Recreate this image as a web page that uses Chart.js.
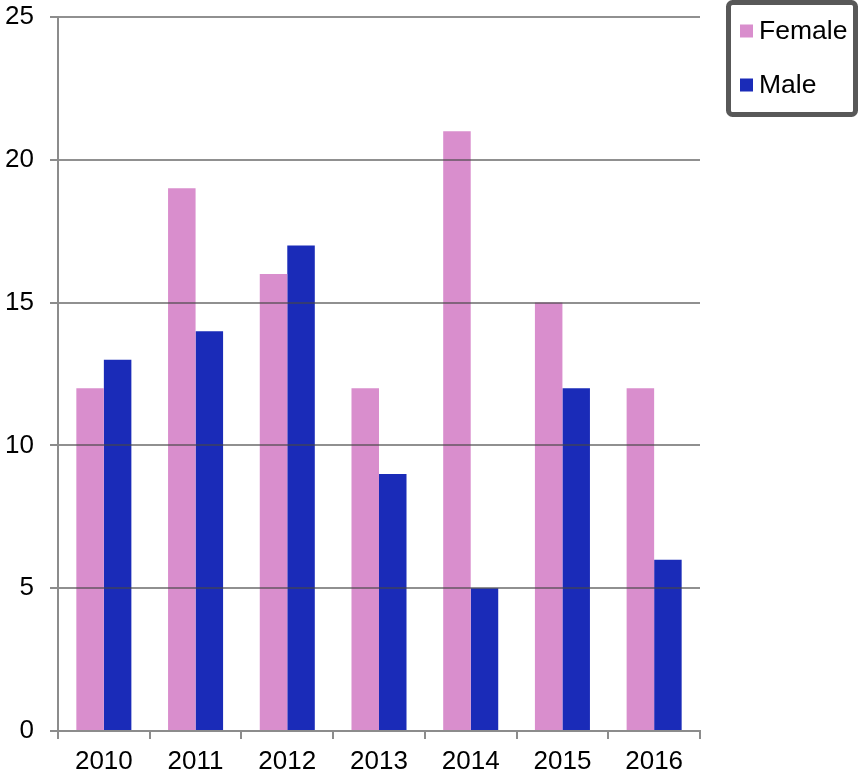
<!DOCTYPE html>
<html>
<head>
<meta charset="utf-8">
<script src="https://cdn.jsdelivr.net/npm/chart.js@4/dist/chart.umd.min.js"></script>
<style>
  html, body { margin: 0; padding: 0; background: #ffffff; }
  #wrap { width: 859px; height: 774px; position: relative; }
</style>
</head>
<body>
<div id="wrap"><canvas id="c" width="859" height="774"></canvas></div>
<script>
const years = ['2010', '2011', '2012', '2013', '2014', '2015', '2016'];
const female = [12, 19, 16, 12, 21, 15, 12];
const male = [13, 14, 17, 9, 5, 12, 6];
const seriesNames = ['Female', 'Male'];
const seriesColors = ['#d98ecd', '#1a2bb8'];

const FONT = "'Liberation Sans', Arial, sans-serif";
const AXIS_GREY = '#8c8c8c';
// translucent so the lines stay visible across the bars
const GRID_GREY = 'rgba(70, 70, 70, 0.6)';

// Horizontal value lines laid over the bars
const overGrid = {
  id: 'overGrid',
  afterDatasetsDraw(chart) {
    const ctx = chart.ctx;
    const y = chart.scales.y;
    const area = chart.chartArea;
    ctx.save();
    ctx.strokeStyle = GRID_GREY;
    ctx.lineWidth = 2;
    y.ticks.forEach(t => {
      if (t.value === 0) return;
      const py = Math.round(y.getPixelForValue(t.value));
      ctx.beginPath();
      ctx.moveTo(area.left + 1, py);
      ctx.lineTo(area.right, py);
      ctx.stroke();
    });
    ctx.restore();
  }
};

// Boxed legend drawn at the top right corner
const boxLegend = {
  id: 'boxLegend',
  afterDraw(chart) {
    const ctx = chart.ctx;
    const x = 728.5, y = 2.5, w = 127, h = 112, r = 4;
    ctx.save();
    ctx.fillStyle = '#ffffff';
    ctx.strokeStyle = '#585858';
    ctx.lineWidth = 5;
    ctx.beginPath();
    ctx.roundRect(x, y, w, h, r);
    ctx.fill();
    ctx.stroke();
    ctx.font = '26.5px ' + FONT;
    ctx.textBaseline = 'middle';
    chart.data.datasets.forEach((ds, i) => {
      const cy = 31 + i * 54;
      ctx.fillStyle = ds.backgroundColor;
      ctx.fillRect(740, cy - 6.5, 13, 13);
      ctx.fillStyle = '#000000';
      ctx.fillText(ds.label, 759, cy + 1);
    });
    ctx.restore();
  }
};

new Chart(document.getElementById('c'), {
  type: 'bar',
  data: {
    labels: years,
    datasets: [
      { label: seriesNames[0], data: female, backgroundColor: seriesColors[0] },
      { label: seriesNames[1], data: male, backgroundColor: seriesColors[1] }
    ]
  },
  options: {
    responsive: false,
    animation: false,
    devicePixelRatio: 1,
    layout: { padding: { top: 17, right: 159, left: 0, bottom: 0 } },
    datasets: { bar: { categoryPercentage: 0.6, barPercentage: 1.0 } },
    plugins: { legend: { display: false }, tooltip: { enabled: false } },
    scales: {
      x: {
        grid: { drawOnChartArea: false, drawTicks: true, tickLength: 8, color: AXIS_GREY, lineWidth: 2, offset: true },
        border: { display: true, color: AXIS_GREY, width: 2 },
        ticks: { color: '#000000', font: { family: FONT, size: 26 }, padding: 7 },
        afterFit(scale) { scale.height = 43; scale.paddingLeft = 0; scale.paddingRight = 0; }
      },
      y: {
        min: 0,
        max: 25,
        ticks: { stepSize: 5, color: '#000000', font: { family: FONT, size: 26 }, padding: 16 },
        grid: { drawOnChartArea: false, color: AXIS_GREY, lineWidth: 2, tickLength: 8, drawTicks: true },
        border: { display: true, color: AXIS_GREY, width: 2 },
        afterFit(scale) { scale.width = 58; scale.paddingTop = 0; scale.paddingBottom = 0; }
      }
    }
  },
  plugins: [overGrid, boxLegend]
});
</script>
</body>
</html>
